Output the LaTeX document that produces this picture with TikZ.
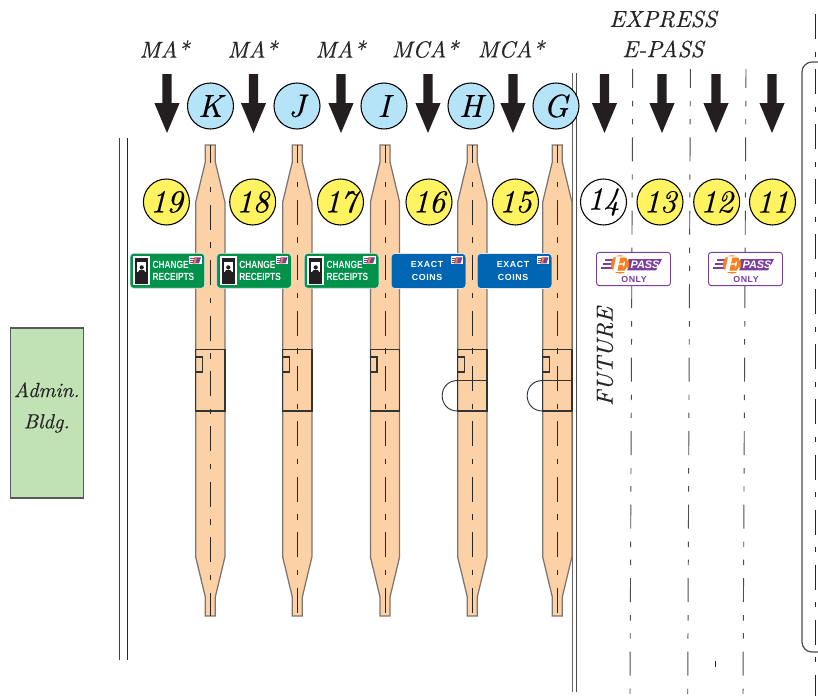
\documentclass[tikz,border=0pt]{standalone}
\usepackage{fontspec}
\newfontfamily\signfont[FakeStretch=0.8]{Liberation Sans}
\newfontfamily\exactfont[LetterSpace=7]{Liberation Sans}
\newfontfamily\onlyfont[LetterSpace=6]{Liberation Sans}
\newfontfamily\passfont{Liberation Sans}
\newfontfamily\labelfont[FakeBold=0.35]{[lmroman10-italic.otf]}
\newfontfamily\efont[FakeStretch=1.25]{Liberation Serif}
\definecolor{islandfill}{HTML}{FDD1A6}
\definecolor{islandedge}{HTML}{7D7570}
\definecolor{boothline}{HTML}{333333}
\definecolor{ringyellow}{HTML}{FFF45F}
\definecolor{ringblue}{HTML}{B5E3F7}
\definecolor{arrowblack}{HTML}{231F20}
\definecolor{signgreen}{HTML}{00924A}
\definecolor{signblue}{HTML}{0066B3}
\definecolor{epurple}{HTML}{7B3FA0}
\definecolor{eorange}{HTML}{F58220}
\definecolor{adminfill}{HTML}{C1E2B5}
\tikzset{
 x=.75pt,y=-.75pt,
 lanenum/.style={circle,draw=black,line width=.8pt,minimum size=34.5pt,inner sep=0pt,font=\labelfont\fontsize{24}{24}\selectfont},
 plazaletter/.style={lanenum,fill=ringblue},
 titletext/.style={font=\labelfont\fontsize{17.4}{20}\selectfont,text=black!85,inner sep=0pt},
 islandshape/.style={fill=islandfill,draw=islandedge,line width=.95pt,line join=miter},
 centerline/.style={black!85,line width=.6pt,dash pattern=on 4pt off 9.4pt on 18.75pt off 9.4pt},
 laneline/.style={black!70,line width=.7pt,dash pattern=on 18pt off 9.75pt on 4.1pt off 9.4pt on 4.1pt off 9.75pt,dash phase=3.9pt},
 boothbox/.style={boothline,line width=.9pt},
 signbox/.style={rectangle,draw=white!90!black,line width=.5pt,rounded corners=2.6pt,minimum width=56pt,minimum height=26.2pt,inner sep=0pt},
 signtext/.style={text=white,font=\signfont\bfseries\fontsize{7.8}{8}\selectfont,inner sep=0pt},
 exacttext/.style={text=white,font=\exactfont\bfseries\fontsize{6.6}{8}\selectfont,inner sep=0pt},
 epassbox/.style={rectangle,draw=epurple,fill=white,line width=.7pt,rounded corners=2.2pt,minimum width=55.5pt,minimum height=25pt,inner sep=0pt},
 heavyarrow/.style={fill=arrowblack,draw=none},
}
\newcommand{\ArrowAt}[1]{\fill[heavyarrow] (#1-4.7,74) -- (#1+4.7,74) -- (#1+4.7,103) -- (#1+12.6,103) -- (#1,133) -- (#1-12.6,103) -- (#1-4.7,103) -- cycle;}
\newcommand{\IslandAt}[2]{%
 \draw[islandshape] (#1-5,145) -- (#1+5,145) -- (#1+5,162) -- (#1+14.6,202) -- (#1+14.6,557) -- (#1+5,597) -- (#1+5,616) -- (#1-5,616) -- (#1-5,597) -- (#1-14.6,557) -- (#1-14.6,202) -- (#1-5,162) -- cycle;
 \draw[black!85,line width=.6pt] (#1,145) -- (#1,163);
 \draw[centerline] (#1,#2) -- (#1,616);
 \draw[boothbox] (#1-14.6,349.5) rectangle (#1+14.6,411);
 \draw[boothbox] (#1-14.6,357) rectangle (#1-8,372);}
\newcommand{\MiniLogo}[1]{%
 \fill[white] (#1,256) rectangle (#1+12.4,264.4);
 \fill[epurple] (#1+5,257.4) -- (#1+11.6,257.4) -- (#1+9.6,263.4) -- (#1+3,263.4) -- cycle;
 \fill[eorange] (#1+5.5,257.4) -- (#1+7.5,257.4) -- (#1+6,263.4) -- (#1+4,263.4) -- cycle;
 \draw[epurple,line width=.5pt] (#1+1,258.6) -- (#1+5,258.6) (#1+.8,260.4) -- (#1+4.5,260.4) (#1+.6,262.2) -- (#1+4,262.2);}
\newcommand{\PersonIcon}[1]{%
 \fill[white] (#1,256) rectangle (#1+16.6,285);
 \fill[arrowblack] (#1+2,258.3) rectangle (#1+14.6,283.6);
 \fill[white] (#1+3.6,262) rectangle (#1+13,272);
 \fill[arrowblack] (#1+8.3,267.4) circle[radius=1.6pt];
 \fill[arrowblack] (#1+4.6,272.2) -- (#1+6,270.2) -- (#1+10.6,270.2) -- (#1+12,272.2) -- cycle;}
\newcommand{\EpassLogo}[1]{%
 \foreach \yy/\xa in {260/-15,264/-17,268/-19} \fill[epurple] (#1+\xa,\yy-.9) rectangle (#1-7,\yy+.9);
 \fill[epurple] (#1+6,259) -- (#1+42,259) -- (#1+36,270.4) -- (#1+2,270.4) -- cycle;
 \fill[eorange] (#1,264.4) circle[radius=6.9pt];}
\begin{document}
\begin{tikzpicture}
\useasboundingbox (0,0) rectangle (818,696);

% lane lines
\draw[laneline] (632.7,69) -- (630,696);
\draw[laneline] (690.4,69) -- (687.7,696);
\draw[laneline] (746,69) -- (743,696);
\draw[black!85,line width=.95pt,dash pattern=on 18.75pt off 9.4pt on 3.75pt off 9.4pt] (815.3,14) -- (815.3,696);
\draw[black!85,line width=.6pt] (715,661) -- (715,667);

% edge lines
\draw[black!75,line width=.7pt] (119,138) -- (119,660);
\draw[black!85,line width=.7pt] (127,138) -- (127,660);
\draw[black!60,line width=.9pt] (572.6,73) -- (572.6,692);
\draw[black!70,line width=.7pt] (576.3,73) -- (576.3,692);
\draw[black!70,line width=.9pt,rounded corners=7.5pt] (820,62) -- (802,62) -- (802,652) -- (820,652);

% islands
\IslandAt{210.3}{187}
\IslandAt{297.3}{182}
\IslandAt{385}{182}
\IslandAt{472.3}{182}
\IslandAt{557.3}{182}
\foreach \cx in {472.3,557.3}{
 \draw[boothbox] (\cx-14.6,380.5) -- (\cx+14.6,380.5);
 \draw[boothline,line width=.7pt] (\cx-14.6,380.5) .. controls (\cx-35.3,380.5) and (\cx-35.3,411) .. (\cx-14.6,411);
}

% lane number rings
\foreach \n/\cx in {19/166.4,18/252.7,17/340.5,16/429,15/515.5,13/660,12/716.7,11/772.5}
 \node[lanenum,fill=ringyellow] (lane\n) at (\cx,202) {\n};
\node[lanenum,fill=white] (lane14) at (603.5,202) {14};

% plaza letters
\foreach \n/\cx in {K/210.5,J/297,I/384,H/471,G/556}
 \node[plazaletter] (plaza\n) at (\cx,106) {\n};

% arrows
\foreach \cx in {167,253.5,341,428,513,604.5,662,716,772} {\ArrowAt{\cx}}

% heading labels
\foreach \t/\cx/\nm in {MA*/164.5/a,MA*/252.5/b,MA*/340.5/c,MCA*/425/d,MCA*/511/e}
 \node[titletext] (head\nm) at (\cx,49) {\t};
\node[titletext] (express) at (663,19) {EXPRESS};
\node[titletext] (epass) at (663,49) {E-PASS};

% change signs
\foreach \n/\cx/\ix in {a/167.4/133.4,b/254/220,c/341.5/307.4}{
 \node[signbox,fill=signgreen] (change\n) at (\cx,270.8) {};
 \PersonIcon{\ix}
 \MiniLogo{\ix+56}
 \node[signtext,anchor=west] (changet\n) at (\ix+19,264.6) {CHANGE};
 \node[signtext,anchor=west] (changer\n) at (\ix+19,277) {RECEIPTS};
}
% exact signs
\foreach \n/\cx in {a/428.5,b/514.5}{
 \node[signbox,fill=signblue] (exact\n) at (\cx,271) {};
 \MiniLogo{\cx+22.4}
 \node[exacttext] (exactt\n) at (\cx-1.5,264.8) {EXACT};
 \node[exacttext] (exactc\n) at (\cx-1.5,277) {COINS};
}
% e-pass signs
\foreach \n/\cx in {a/633.5,b/745.5}{
 \node[epassbox] (esign\n) at (\cx,269) {};
 \EpassLogo{\cx-13.5}
 \node[text=white,font=\passfont\bfseries\itshape\fontsize{8.2}{8}\selectfont,inner sep=0pt] (pass\n) at (\cx+11.5,264.8) {PASS};
 \node[text=white,font=\efont\bfseries\itshape\fontsize{18}{18}\selectfont,inner sep=0pt] (elet\n) at (\cx-13,264.6) {E};
 \node[text=epurple,font=\onlyfont\bfseries\fontsize{6.6}{8}\selectfont,inner sep=0pt] (only\n) at (\cx+.5,279.8) {ONLY};
}

% admin building
\node[rectangle,draw=black!65,fill=adminfill,line width=.8pt,minimum width=54.5pt,minimum height=127.5pt,inner sep=0pt] (admin) at (46.7,413) {};
\node[align=center,inner sep=0pt,font=\labelfont\fontsize{15.4}{23.5}\selectfont,text=black!85] (admintext) at (46.7,407.5) {Admin.\\Bldg.};

% future
\node[titletext,rotate=90] (future) at (605,356.5) {FUTURE};
\end{tikzpicture}
\end{document}
